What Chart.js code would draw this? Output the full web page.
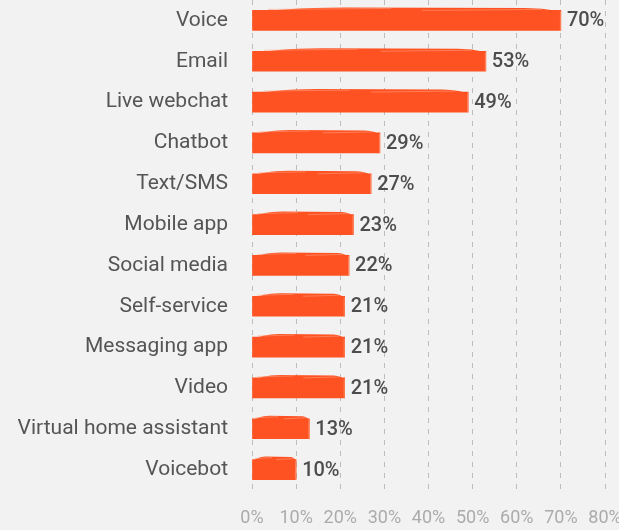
<!DOCTYPE html>
<html>
<head>
<meta charset="utf-8">
<title>Channel usage</title>
<script src="https://cdn.jsdelivr.net/npm/chart.js@4.4.1/dist/chart.umd.min.js"></script>
<style>
    html, body { margin: 0; padding: 0; background: #f2f2f2; }
    #wrap { width: 619px; height: 530px; position: relative; }
</style>
</head>
<body>
<div id="wrap"><canvas id="channelChart"></canvas></div>
<script>
// --- data ---
const channels = ['Voice', 'Email', 'Live webchat', 'Chatbot', 'Text/SMS', 'Mobile app',
    'Social media', 'Self-service', 'Messaging app', 'Video', 'Virtual home assistant', 'Voicebot'];
const shares = [70, 53, 49, 29, 27, 23, 22, 21, 21, 21, 13, 10];
const tickValues = [0, 10, 20, 30, 40, 50, 60, 70, 80];
const tickLabels = ['0%', '10%', '20%', '30%', '40%', '50%', '60%', '70%', '80%'];

const BAR = '#ff5222';

// brush-like frayed top edge on each bar
const brushEdge = {
    id: 'brushEdge',
    afterDatasetsDraw(chart) {
        const ctx = chart.ctx;
        const meta = chart.getDatasetMeta(0);
        ctx.save();
        meta.data.forEach((bar) => {
            const left = bar.base;
            const right = bar.x;
            const top = bar.y - bar.height / 2;
            const w = right - left;
            ctx.fillStyle = BAR;
            ctx.beginPath();
            ctx.moveTo(left, top + 3);
            ctx.quadraticCurveTo(left + w * 0.08, top - 2.5, left + w * 0.3, top - 3);
            ctx.lineTo(right - w * 0.12, top - 2.5);
            ctx.quadraticCurveTo(right - w * 0.03, top - 2, right, top + 2);
            ctx.lineTo(right, top + 3);
            ctx.closePath();
            ctx.fill();
            ctx.strokeStyle = 'rgba(255, 160, 130, 0.55)';
            ctx.lineWidth = 1;
            ctx.beginPath();
            ctx.moveTo(left + w * 0.05, top - 1);
            ctx.lineTo(left + w * 0.45, top - 2);
            ctx.moveTo(left + w * 0.55, top);
            ctx.lineTo(right - w * 0.06, top - 1);
            ctx.stroke();
            ctx.strokeStyle = 'rgba(255, 170, 140, 0.6)';
            ctx.beginPath();
            ctx.moveTo(right - 0.5, top + 1);
            ctx.lineTo(right - 0.5, bar.y + bar.height / 2);
            ctx.stroke();
        });
        ctx.restore();
    }
};

// value labels at the end of each bar
const valueLabels = {
    id: 'valueLabels',
    afterDatasetsDraw(chart) {
        const ctx = chart.ctx;
        const meta = chart.getDatasetMeta(0);
        ctx.save();
        ctx.font = '500 20px Roboto';
        ctx.fillStyle = '#4d4d4d';
        ctx.textAlign = 'left';
        ctx.textBaseline = 'middle';
        meta.data.forEach((bar, i) => {
            ctx.fillText(shares[i] + '%', bar.x + 6, bar.y + 1);
        });
        ctx.restore();
    }
};

function initChart() {
    if (typeof Chart === 'undefined') {
        console.warn('Chart.js not loaded.');
        return;
    }
    Chart.defaults.font.family = 'Roboto';

    new Chart(document.getElementById('channelChart'), {
        type: 'bar',
        data: {
            labels: channels,
            datasets: [{
                data: shares,
                backgroundColor: BAR,
                borderWidth: 0,
                barThickness: 20
            }]
        },
        options: {
            indexAxis: 'y',
            responsive: true,
            maintainAspectRatio: false,
            animation: false,
            layout: { padding: { top: 0, right: 14, bottom: 0, left: 0 } },
            plugins: { legend: { display: false }, tooltip: { enabled: false } },
            scales: {
                x: {
                    min: 0,
                    max: 80,
                    afterBuildTicks(scale) {
                        scale.ticks = tickValues.map(v => ({ value: v }));
                    },
                    afterFit(scale) {
                        scale.height = 40;
                        scale.paddingLeft = 0;
                        scale.paddingRight = 0;
                    },
                    grid: { color: '#bdbdbd', lineWidth: 1, drawTicks: false },
                    border: { display: false, dash: [5, 6] },
                    ticks: {
                        padding: 18,
                        color: '#ababab',
                        font: { size: 18 },
                        callback: (v, i) => tickLabels[i]
                    }
                },
                y: {
                    afterFit(scale) {
                        scale.width = 252;
                        scale.paddingTop = 0;
                        scale.paddingBottom = 0;
                    },
                    grid: { display: false, drawTicks: false },
                    border: { display: false },
                    ticks: {
                        padding: 24,
                        color: '#555555',
                        font: { size: 21 }
                    }
                }
            }
        },
        plugins: [brushEdge, valueLabels]
    });
}

document.addEventListener('DOMContentLoaded', initChart);
</script>
</body>
</html>
